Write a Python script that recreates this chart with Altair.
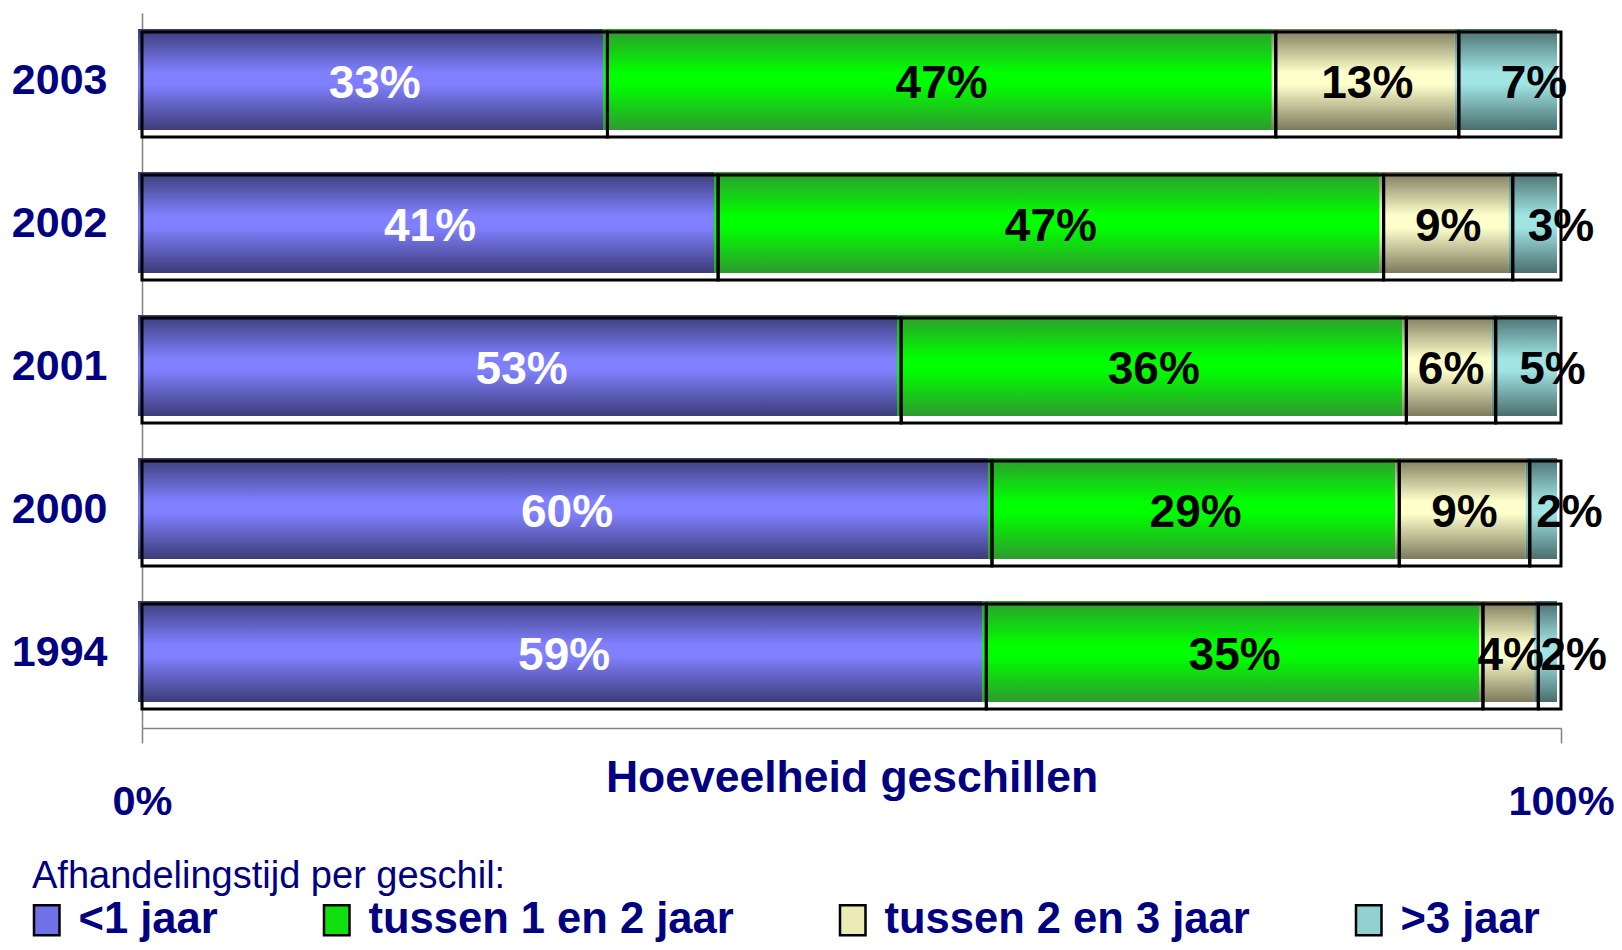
import altair as alt
import pandas as pd

years = ["2003", "2002", "2001", "2000", "1994"]
categories = ["<1 jaar", "tussen 1 en 2 jaar", "tussen 2 en 3 jaar", ">3 jaar"]

share_lt1 = [32.8, 40.6, 53.5, 59.9, 59.5]
share_1_2 = [47.1, 46.9, 35.6, 28.7, 35.0]
share_2_3 = [12.9, 9.1, 6.3, 9.2, 3.9]
share_gt3 = [7.2, 3.4, 4.6, 2.2, 1.6]

labels_lt1 = ["33%", "41%", "53%", "60%", "59%"]
labels_1_2 = ["47%", "47%", "36%", "29%", "35%"]
labels_2_3 = ["13%", "9%", "6%", "9%", "4%"]
labels_gt3 = ["7%", "3%", "5%", "2%", "2%"]

flat_colors = ["#7070e8", "#10e010", "#ecebb8", "#90d0d0"]
edge_colors = ["#3c3c78", "#2f9a2f", "#7c7a5c", "#4a6e6e"]
mid_colors = ["#8080ff", "#00ff00", "#ffffcc", "#a0e4e4"]

NAVY = "#000080"
FONT = "Liberation Sans"

rows = []
series = [share_lt1, share_1_2, share_2_3, share_gt3]
labels = [labels_lt1, labels_1_2, labels_2_3, labels_gt3]
for ci, cat in enumerate(categories):
    for yi, yr in enumerate(years):
        rows.append({"year": yr, "category": cat, "order": ci,
                     "value": series[ci][yi], "label": labels[ci][yi]})
df = pd.DataFrame(rows)

x_axis = alt.Axis(
    values=[0, 1], format=".0%", title="Hoeveelheid geschillen", grid=False,
    domainColor="#808080", domainWidth=1.5, tickColor="#808080", tickWidth=1.5,
    tickSize=15, labelFont=FONT, labelFontWeight="bold", labelFontSize=41.5,
    labelColor=NAVY, labelFlush=False, labelBaseline="middle", labelPadding=59,
    titleFont=FONT, titleFontSize=44.5, titleFontWeight="bold", titleColor=NAVY,
    titleBaseline="middle", titleY=50,
)
y_axis = alt.Axis(
    title=None, ticks=False, domainColor="#808080", domainWidth=1.5,
    labelFont=FONT, labelFontWeight="bold", labelFontSize=43, labelColor=NAVY,
    labelPadding=35, labelOffset=-4,
)
x_scale = alt.Scale(domain=[0, 1], nice=False, zero=True)
y_scale = alt.Scale(paddingInner=0.266, paddingOuter=0.133)

X0 = alt.X("x0:Q", scale=x_scale, axis=x_axis)
X1 = alt.X2("x1:Q")
Y = alt.Y("year:N", sort=years, scale=y_scale, axis=y_axis)

base = alt.Chart(df).transform_stack(
    stack="value", groupby=["year"], as_=["x0", "x1"],
    sort=[alt.SortField("order", order="ascending")], offset="normalize",
).transform_calculate(mid="(datum.x0 + datum.x1) / 2")

fill_props = dict(height=101, xOffset=-4, x2Offset=-4, yOffset=-5)

legend_layer = base.mark_bar(**fill_props).encode(
    x=X0, x2=X1, y=Y,
    color=alt.Color(
        "category:N",
        scale=alt.Scale(domain=categories, range=flat_colors),
        sort=categories,
        legend=alt.Legend(
            title="Afhandelingstijd per geschil:", orient="none",
            legendX=-110, legendY=845, direction="horizontal", columns=4,
            columnPadding=101, titleFont=FONT, titleFontSize=38,
            titleFontWeight="normal", titleColor=NAVY, titlePadding=2,
            titleLimit=900,
            labelFont=FONT, labelFontSize=43.5, labelFontWeight="bold",
            labelColor=NAVY, labelOffset=10, symbolOffset=-7,
            symbolType="M-0.85,-1H0.85V1H-0.85Z", symbolSize=900,
            symbolStrokeColor="black", symbolStrokeWidth=2.5, symbolOpacity=1,
            labelLimit=600,
        ),
    ),
)

grad_layers = []
for ci, cat in enumerate(categories):
    g = alt.Gradient(
        gradient="linear", x1=0, y1=0, x2=0, y2=1,
        stops=[
            alt.GradientStop(offset=0, color=edge_colors[ci]),
            alt.GradientStop(offset=0.43, color=mid_colors[ci]),
            alt.GradientStop(offset=0.55, color=mid_colors[ci]),
            alt.GradientStop(offset=1, color=edge_colors[ci]),
        ],
    )
    grad_layers.append(
        base.transform_filter(alt.datum.category == cat)
        .mark_bar(color=g, **fill_props)
        .encode(x=X0, x2=X1, y=Y)
    )

outline = base.mark_bar(filled=False, stroke="black", strokeWidth=3).encode(
    x=X0, x2=X1, y=Y
)

text_main = base.transform_filter(alt.datum.order < 3).mark_text(
    font=FONT, fontSize=46, fontWeight="bold", baseline="middle", align="center", dy=-1
).encode(
    x=alt.X("mid:Q", scale=x_scale, axis=x_axis), y=Y, text="label:N",
    color=alt.condition(alt.datum.order == 0, alt.value("white"), alt.value("black")),
)
text_last = base.transform_filter(alt.datum.order == 3).mark_text(
    font=FONT, fontSize=46, fontWeight="bold", baseline="middle", align="center", dy=-1, dx=24,
    color="black",
).encode(
    x=alt.X("mid:Q", scale=x_scale, axis=x_axis), y=Y, text="label:N",
)

chart = alt.layer(legend_layer, *grad_layers, outline, text_main, text_last).properties(
    width=1419, height=715,
    autosize=alt.AutoSizeParams(type="none"),
    padding={"left": 134, "top": 5, "right": 53, "bottom": 214},
).configure_view(stroke=None)

chart.save("out.html", embed_options={"renderer": "svg", "actions": False})
